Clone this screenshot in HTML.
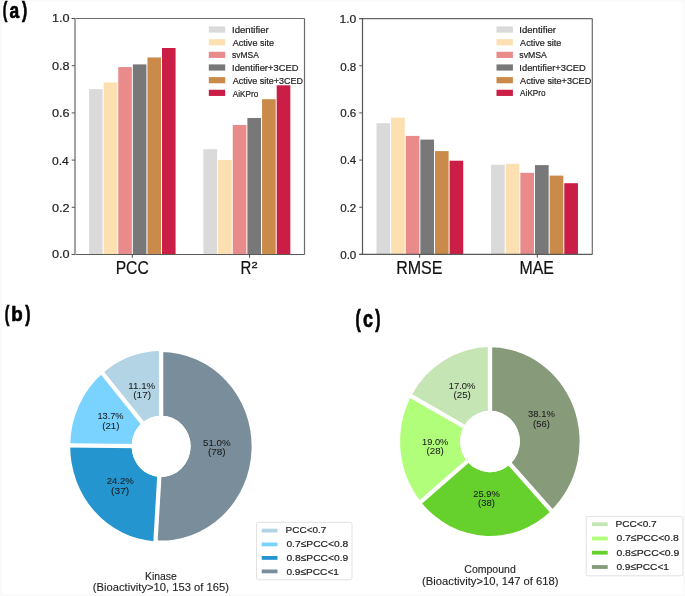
<!DOCTYPE html><html><head><meta charset="utf-8"><style>html,body{margin:0;padding:0;background:#fff;}svg{display:block;will-change:transform;}</style></head><body><svg width="685" height="596" viewBox="0 0 685 596" font-family="Liberation Sans, sans-serif">
<rect x="0.00" y="0.00" width="685.00" height="596.00" fill="#fff" />
<rect x="1" y="1" width="683" height="594" fill="none" stroke="#fafafa" stroke-width="2"/>
<rect x="89.10" y="89.15" width="13.58" height="165.35" fill="#dadada" />
<rect x="103.68" y="82.50" width="13.58" height="172.00" fill="#fde0b2" />
<rect x="118.26" y="67.05" width="13.58" height="187.45" fill="#e98a8b" />
<rect x="132.84" y="64.40" width="13.58" height="190.10" fill="#787878" />
<rect x="147.42" y="57.45" width="13.58" height="197.05" fill="#ca8b4a" />
<rect x="162.00" y="48.00" width="13.58" height="206.50" fill="#ca1e46" />
<rect x="203.45" y="149.20" width="13.65" height="105.30" fill="#dadada" />
<rect x="218.10" y="160.00" width="13.65" height="94.50" fill="#fde0b2" />
<rect x="232.75" y="125.00" width="13.65" height="129.50" fill="#e98a8b" />
<rect x="247.40" y="118.00" width="13.65" height="136.50" fill="#787878" />
<rect x="262.05" y="99.20" width="13.65" height="155.30" fill="#ca8b4a" />
<rect x="276.70" y="85.30" width="13.65" height="169.20" fill="#ca1e46" />
<line x1="71.70" y1="18.50" x2="304.50" y2="18.50" stroke="#6a6a6a" stroke-width="1.2"/>
<line x1="304.50" y1="18.50" x2="304.50" y2="254.50" stroke="#6a6a6a" stroke-width="1.2"/>
<line x1="71.70" y1="254.50" x2="304.50" y2="254.50" stroke="#5a5a5a" stroke-width="1.2"/>
<line x1="75.00" y1="17.90" x2="75.00" y2="255.10" stroke="#a3a3a3" stroke-width="2.1"/>
<line x1="71.70" y1="254.50" x2="75.00" y2="254.50" stroke="#555" stroke-width="1"/>
<text x="51.96" y="258.45" font-size="11" font-weight="400" fill="#222" textLength="17.63" lengthAdjust="spacingAndGlyphs" stroke="#222" stroke-width="0.2">0.0</text>
<line x1="71.70" y1="207.30" x2="75.00" y2="207.30" stroke="#555" stroke-width="1"/>
<text x="51.96" y="211.89" font-size="11" font-weight="400" fill="#222" textLength="17.63" lengthAdjust="spacingAndGlyphs" stroke="#222" stroke-width="0.2">0.2</text>
<line x1="71.70" y1="160.10" x2="75.00" y2="160.10" stroke="#555" stroke-width="1"/>
<text x="51.96" y="164.53" font-size="11" font-weight="400" fill="#222" textLength="16.83" lengthAdjust="spacingAndGlyphs" stroke="#222" stroke-width="0.2">0.4</text>
<line x1="71.70" y1="112.90" x2="75.00" y2="112.90" stroke="#555" stroke-width="1"/>
<text x="51.96" y="117.17" font-size="11" font-weight="400" fill="#222" textLength="17.63" lengthAdjust="spacingAndGlyphs" stroke="#222" stroke-width="0.2">0.6</text>
<line x1="71.70" y1="65.70" x2="75.00" y2="65.70" stroke="#555" stroke-width="1"/>
<text x="51.96" y="69.81" font-size="11" font-weight="400" fill="#222" textLength="17.63" lengthAdjust="spacingAndGlyphs" stroke="#222" stroke-width="0.2">0.8</text>
<line x1="71.70" y1="18.50" x2="75.00" y2="18.50" stroke="#555" stroke-width="1"/>
<text x="51.96" y="22.45" font-size="11" font-weight="400" fill="#222" textLength="17.63" lengthAdjust="spacingAndGlyphs" stroke="#222" stroke-width="0.2">1.0</text>
<line x1="132.30" y1="254.50" x2="132.30" y2="257.70" stroke="#444" stroke-width="1"/>
<line x1="249.60" y1="254.50" x2="249.60" y2="257.70" stroke="#444" stroke-width="1"/>
<rect x="208.80" y="26.40" width="16.40" height="6.20" fill="#dadada" />
<rect x="208.80" y="39.10" width="16.40" height="6.20" fill="#fde0b2" />
<rect x="208.80" y="51.75" width="16.40" height="6.20" fill="#e98a8b" />
<rect x="208.80" y="64.40" width="16.40" height="6.20" fill="#787878" />
<rect x="208.80" y="77.10" width="16.40" height="6.20" fill="#ca8b4a" />
<rect x="208.80" y="89.75" width="16.40" height="6.20" fill="#ca1e46" />
<rect x="376.50" y="123.20" width="13.62" height="131.20" fill="#dadada" />
<rect x="391.12" y="117.60" width="13.62" height="136.80" fill="#fde0b2" />
<rect x="405.74" y="135.90" width="13.62" height="118.50" fill="#e98a8b" />
<rect x="420.36" y="139.60" width="13.62" height="114.80" fill="#787878" />
<rect x="434.98" y="151.10" width="13.62" height="103.30" fill="#ca8b4a" />
<rect x="449.60" y="160.70" width="13.62" height="93.70" fill="#ca1e46" />
<rect x="491.05" y="164.70" width="13.65" height="89.70" fill="#dadada" />
<rect x="505.70" y="163.90" width="13.65" height="90.50" fill="#fde0b2" />
<rect x="520.35" y="172.80" width="13.65" height="81.60" fill="#e98a8b" />
<rect x="535.00" y="165.10" width="13.65" height="89.30" fill="#787878" />
<rect x="549.65" y="175.60" width="13.65" height="78.80" fill="#ca8b4a" />
<rect x="564.30" y="183.20" width="13.65" height="71.20" fill="#ca1e46" />
<line x1="359.20" y1="18.60" x2="592.30" y2="18.60" stroke="#6a6a6a" stroke-width="1.2"/>
<line x1="592.30" y1="18.60" x2="592.30" y2="254.40" stroke="#6a6a6a" stroke-width="1.2"/>
<line x1="359.20" y1="254.40" x2="592.30" y2="254.40" stroke="#5a5a5a" stroke-width="1.2"/>
<line x1="362.50" y1="18.00" x2="362.50" y2="255.00" stroke="#555" stroke-width="1.2"/>
<line x1="359.20" y1="254.40" x2="362.50" y2="254.40" stroke="#555" stroke-width="1"/>
<text x="340.22" y="258.54" font-size="11" font-weight="400" fill="#222" textLength="16.10" lengthAdjust="spacingAndGlyphs" stroke="#222" stroke-width="0.2">0.0</text>
<line x1="359.20" y1="207.24" x2="362.50" y2="207.24" stroke="#555" stroke-width="1"/>
<text x="340.22" y="211.73" font-size="11" font-weight="400" fill="#222" textLength="16.10" lengthAdjust="spacingAndGlyphs" stroke="#222" stroke-width="0.2">0.2</text>
<line x1="359.20" y1="160.08" x2="362.50" y2="160.08" stroke="#555" stroke-width="1"/>
<text x="340.22" y="164.12" font-size="11" font-weight="400" fill="#222" textLength="16.10" lengthAdjust="spacingAndGlyphs" stroke="#222" stroke-width="0.2">0.4</text>
<line x1="359.20" y1="112.92" x2="362.50" y2="112.92" stroke="#555" stroke-width="1"/>
<text x="340.22" y="117.32" font-size="11" font-weight="400" fill="#222" textLength="16.10" lengthAdjust="spacingAndGlyphs" stroke="#222" stroke-width="0.2">0.6</text>
<line x1="359.20" y1="65.76" x2="362.50" y2="65.76" stroke="#555" stroke-width="1"/>
<text x="340.22" y="70.51" font-size="11" font-weight="400" fill="#222" textLength="16.10" lengthAdjust="spacingAndGlyphs" stroke="#222" stroke-width="0.2">0.8</text>
<line x1="359.20" y1="18.60" x2="362.50" y2="18.60" stroke="#555" stroke-width="1"/>
<text x="339.42" y="22.90" font-size="11" font-weight="400" fill="#222" textLength="16.90" lengthAdjust="spacingAndGlyphs" stroke="#222" stroke-width="0.2">1.0</text>
<line x1="419.70" y1="254.40" x2="419.70" y2="257.60" stroke="#444" stroke-width="1"/>
<line x1="537.30" y1="254.40" x2="537.30" y2="257.60" stroke="#444" stroke-width="1"/>
<rect x="496.50" y="26.40" width="16.40" height="6.20" fill="#dadada" />
<rect x="496.50" y="39.10" width="16.40" height="6.20" fill="#fde0b2" />
<rect x="496.50" y="51.75" width="16.40" height="6.20" fill="#e98a8b" />
<rect x="496.50" y="64.40" width="16.40" height="6.20" fill="#787878" />
<rect x="496.50" y="77.10" width="16.40" height="6.20" fill="#ca8b4a" />
<rect x="496.50" y="89.75" width="16.40" height="6.20" fill="#ca1e46" />
<text x="232.04" y="32.65" font-size="9.2" font-weight="400" fill="#222" textLength="36.74" lengthAdjust="spacingAndGlyphs" stroke="#222" stroke-width="0.2">Identifier</text>
<text x="519.32" y="32.65" font-size="9.2" font-weight="400" fill="#222" textLength="36.74" lengthAdjust="spacingAndGlyphs" stroke="#222" stroke-width="0.2">Identifier</text>
<text x="232.84" y="45.51" font-size="9.2" font-weight="400" fill="#222" textLength="41.12" lengthAdjust="spacingAndGlyphs" stroke="#222" stroke-width="0.2">Active site</text>
<text x="520.12" y="45.51" font-size="9.2" font-weight="400" fill="#222" textLength="41.12" lengthAdjust="spacingAndGlyphs" stroke="#222" stroke-width="0.2">Active site</text>
<text x="232.04" y="57.88" font-size="9.2" font-weight="400" fill="#222" textLength="26.84" lengthAdjust="spacingAndGlyphs" stroke="#222" stroke-width="0.2">svMSA</text>
<text x="519.32" y="57.88" font-size="9.2" font-weight="400" fill="#222" textLength="27.64" lengthAdjust="spacingAndGlyphs" stroke="#222" stroke-width="0.2">svMSA</text>
<text x="232.04" y="70.65" font-size="9.2" font-weight="400" fill="#222" textLength="66.46" lengthAdjust="spacingAndGlyphs" stroke="#222" stroke-width="0.2">Identifier+3CED</text>
<text x="519.32" y="70.65" font-size="9.2" font-weight="400" fill="#222" textLength="66.46" lengthAdjust="spacingAndGlyphs" stroke="#222" stroke-width="0.2">Identifier+3CED</text>
<text x="232.84" y="83.51" font-size="9.2" font-weight="400" fill="#222" textLength="70.30" lengthAdjust="spacingAndGlyphs" stroke="#222" stroke-width="0.2">Active site+3CED</text>
<text x="520.12" y="83.51" font-size="9.2" font-weight="400" fill="#222" textLength="71.10" lengthAdjust="spacingAndGlyphs" stroke="#222" stroke-width="0.2">Active site+3CED</text>
<text x="232.84" y="96.68" font-size="9.2" font-weight="400" fill="#222" textLength="25.48" lengthAdjust="spacingAndGlyphs" stroke="#222" stroke-width="0.2">AiKPro</text>
<text x="520.12" y="96.28" font-size="9.2" font-weight="400" fill="#222" textLength="25.48" lengthAdjust="spacingAndGlyphs" stroke="#222" stroke-width="0.2">AiKPro</text>
<text x="115.70" y="273.68" font-size="18" font-weight="400" fill="#111" textLength="32.98" lengthAdjust="spacingAndGlyphs" stroke="#111" stroke-width="0.2">PCC</text>
<text x="240.52" y="273.70" font-size="18" font-weight="400" fill="#111" textLength="10.80" lengthAdjust="spacingAndGlyphs" stroke="#111" stroke-width="0.2">R</text>
<text x="251.50" y="267.74" font-size="9.8" font-weight="400" fill="#111" textLength="6.18" lengthAdjust="spacingAndGlyphs" stroke="#111" stroke-width="0.3">2</text>
<text x="396.16" y="273.76" font-size="18" font-weight="400" fill="#111" textLength="46.34" lengthAdjust="spacingAndGlyphs" stroke="#111" stroke-width="0.2">RMSE</text>
<text x="519.60" y="273.66" font-size="18" font-weight="400" fill="#111" textLength="34.36" lengthAdjust="spacingAndGlyphs" stroke="#111" stroke-width="0.2">MAE</text>
<text x="2.67" y="16.70" font-size="22" font-weight="700" fill="#000" textLength="4.61" lengthAdjust="spacingAndGlyphs" stroke="#000" stroke-width="0.7">(</text>
<text x="9.50" y="17.86" font-size="22" font-weight="700" fill="#000" textLength="9.66" lengthAdjust="spacingAndGlyphs" stroke="#000" stroke-width="0.7">a</text>
<text x="21.88" y="16.70" font-size="22" font-weight="700" fill="#000" textLength="5.20" lengthAdjust="spacingAndGlyphs" stroke="#000" stroke-width="0.7">)</text>
<text x="4.67" y="321.36" font-size="22" font-weight="700" fill="#000" textLength="4.61" lengthAdjust="spacingAndGlyphs" stroke="#000" stroke-width="0.7">(</text>
<text x="11.16" y="321.30" font-size="21" font-weight="700" fill="#000" textLength="11.46" lengthAdjust="spacingAndGlyphs" stroke="#000" stroke-width="0.7">b</text>
<text x="25.30" y="321.36" font-size="22" font-weight="700" fill="#000" textLength="5.20" lengthAdjust="spacingAndGlyphs" stroke="#000" stroke-width="0.7">)</text>
<text x="355.54" y="326.72" font-size="23" font-weight="700" fill="#000" textLength="5.24" lengthAdjust="spacingAndGlyphs" stroke="#000" stroke-width="0.7">(</text>
<text x="363.08" y="326.80" font-size="23" font-weight="700" fill="#000" textLength="10.00" lengthAdjust="spacingAndGlyphs" stroke="#000" stroke-width="0.7">c</text>
<text x="375.30" y="326.72" font-size="23" font-weight="700" fill="#000" textLength="5.20" lengthAdjust="spacingAndGlyphs" stroke="#000" stroke-width="0.7">)</text>
<path d="M161.10,351.00 A90.9,95.3 0 0 0 102.67,373.30 L142.14,422.82 A29.5,30.65 0 0 1 161.10,415.65 Z" fill="#b3d4e5"/>
<path d="M102.67,373.30 A90.9,95.3 0 0 0 70.20,445.32 L131.60,445.99 A29.5,30.65 0 0 1 142.14,422.82 Z" fill="#7ad2fe"/>
<path d="M70.20,445.32 A90.9,95.3 0 0 0 155.50,541.42 L159.28,476.89 A29.5,30.65 0 0 1 131.60,445.99 Z" fill="#2495cf"/>
<path d="M155.53,540.42 A90.5,94.3 0 1 0 161.10,352.00 L161.10,415.65 A29.5,30.65 0 1 1 159.28,476.89 Z" fill="#798d9a"/>
<line x1="161.10" y1="446.30" x2="161.10" y2="347.00" stroke="#fff" stroke-width="4.3"/>
<line x1="161.10" y1="446.30" x2="100.10" y2="370.23" stroke="#fff" stroke-width="4.3"/>
<line x1="161.10" y1="446.30" x2="66.21" y2="445.28" stroke="#fff" stroke-width="4.3"/>
<line x1="161.10" y1="446.30" x2="155.26" y2="545.41" stroke="#fff" stroke-width="4.3"/>
<ellipse cx="161.1" cy="446.3" rx="29.5" ry="30.65" fill="#fff"/>
<text x="128.33" y="388.56" font-size="9.1" font-weight="400" fill="#1a1a1a" textLength="26.90" lengthAdjust="spacingAndGlyphs" stroke="#1a1a1a" stroke-width="0.05">11.1%</text>
<text x="133.23" y="398.36" font-size="9.1" font-weight="400" fill="#1a1a1a" textLength="17.90" lengthAdjust="spacingAndGlyphs" stroke="#1a1a1a" stroke-width="0.05">(17)</text>
<text x="97.41" y="419.10" font-size="9.1" font-weight="400" fill="#1a1a1a" textLength="26.10" lengthAdjust="spacingAndGlyphs" stroke="#1a1a1a" stroke-width="0.05">13.7%</text>
<text x="102.31" y="428.54" font-size="9.1" font-weight="400" fill="#1a1a1a" textLength="17.10" lengthAdjust="spacingAndGlyphs" stroke="#1a1a1a" stroke-width="0.05">(21)</text>
<text x="106.68" y="483.82" font-size="9.1" font-weight="400" fill="#1a1a1a" textLength="27.00" lengthAdjust="spacingAndGlyphs" stroke="#1a1a1a" stroke-width="0.05">24.2%</text>
<text x="111.14" y="493.90" font-size="9.1" font-weight="400" fill="#1a1a1a" textLength="18.08" lengthAdjust="spacingAndGlyphs" stroke="#1a1a1a" stroke-width="0.05">(37)</text>
<text x="203.05" y="445.66" font-size="9.1" font-weight="400" fill="#1a1a1a" textLength="27.54" lengthAdjust="spacingAndGlyphs" stroke="#1a1a1a" stroke-width="0.05">51.0%</text>
<text x="207.96" y="455.18" font-size="9.1" font-weight="400" fill="#1a1a1a" textLength="17.72" lengthAdjust="spacingAndGlyphs" stroke="#1a1a1a" stroke-width="0.05">(78)</text>
<path d="M490.00,347.10 A89.9,94.4 0 0 0 411.20,396.06 L463.84,426.72 A29.85,30.7 0 0 1 490.00,410.80 Z" fill="#c5e5b4"/>
<path d="M411.20,396.06 A89.9,94.4 0 0 0 420.93,501.92 L467.07,461.15 A29.85,30.7 0 0 1 463.84,426.72 Z" fill="#b1fe7b"/>
<path d="M420.93,501.92 A89.9,94.4 0 0 0 551.15,510.70 L510.30,464.00 A29.85,30.7 0 0 1 467.07,461.15 Z" fill="#66d12c"/>
<path d="M550.94,510.55 A89.6,94.2 0 0 0 490.00,347.30 L490.00,410.80 A29.85,30.7 0 0 1 510.30,464.00 Z" fill="#879b7a"/>
<line x1="490.00" y1="441.50" x2="490.00" y2="343.10" stroke="#fff" stroke-width="4.3"/>
<line x1="490.00" y1="441.50" x2="407.70" y2="394.13" stroke="#fff" stroke-width="4.3"/>
<line x1="490.00" y1="441.50" x2="417.85" y2="504.48" stroke="#fff" stroke-width="4.3"/>
<line x1="490.00" y1="441.50" x2="553.87" y2="513.63" stroke="#fff" stroke-width="4.3"/>
<ellipse cx="490.0" cy="441.5" rx="29.85" ry="30.7" fill="#fff"/>
<text x="448.78" y="388.72" font-size="9.1" font-weight="400" fill="#1a1a1a" textLength="26.72" lengthAdjust="spacingAndGlyphs" stroke="#1a1a1a" stroke-width="0.05">17.0%</text>
<text x="453.50" y="398.36" font-size="9.1" font-weight="400" fill="#1a1a1a" textLength="17.28" lengthAdjust="spacingAndGlyphs" stroke="#1a1a1a" stroke-width="0.05">(25)</text>
<text x="422.05" y="444.50" font-size="9.1" font-weight="400" fill="#1a1a1a" textLength="26.18" lengthAdjust="spacingAndGlyphs" stroke="#1a1a1a" stroke-width="0.05">19.0%</text>
<text x="426.50" y="454.18" font-size="9.1" font-weight="400" fill="#1a1a1a" textLength="17.28" lengthAdjust="spacingAndGlyphs" stroke="#1a1a1a" stroke-width="0.05">(28)</text>
<text x="473.23" y="496.68" font-size="9.1" font-weight="400" fill="#1a1a1a" textLength="26.54" lengthAdjust="spacingAndGlyphs" stroke="#1a1a1a" stroke-width="0.05">25.9%</text>
<text x="478.04" y="506.32" font-size="9.1" font-weight="400" fill="#1a1a1a" textLength="16.92" lengthAdjust="spacingAndGlyphs" stroke="#1a1a1a" stroke-width="0.05">(38)</text>
<text x="528.14" y="417.48" font-size="9.1" font-weight="400" fill="#1a1a1a" textLength="26.72" lengthAdjust="spacingAndGlyphs" stroke="#1a1a1a" stroke-width="0.05">38.1%</text>
<text x="533.04" y="427.00" font-size="9.1" font-weight="400" fill="#1a1a1a" textLength="16.92" lengthAdjust="spacingAndGlyphs" stroke="#1a1a1a" stroke-width="0.05">(56)</text>
<rect x="256.5" y="522.3" width="95.5" height="57.5" rx="2" ry="2" fill="#fff" stroke="#e2e2e2" stroke-width="1"/>
<rect x="261.70" y="528.70" width="15.80" height="3.80" fill="#b3d4e5" />
<text x="285.60" y="533.02" font-size="9.5" font-weight="400" fill="#222" textLength="40.72" lengthAdjust="spacingAndGlyphs" stroke="#222" stroke-width="0.2">PCC&lt;0.7</text>
<rect x="261.70" y="542.50" width="15.80" height="3.80" fill="#7ad2fe" />
<text x="286.40" y="547.20" font-size="9.5" font-weight="400" fill="#222" textLength="61.92" lengthAdjust="spacingAndGlyphs" stroke="#222" stroke-width="0.2">0.7≤PCC&lt;0.8</text>
<rect x="261.70" y="556.00" width="15.80" height="3.80" fill="#2495cf" />
<text x="286.40" y="560.56" font-size="9.5" font-weight="400" fill="#222" textLength="61.92" lengthAdjust="spacingAndGlyphs" stroke="#222" stroke-width="0.2">0.8≤PCC&lt;0.9</text>
<rect x="261.70" y="569.50" width="15.80" height="3.80" fill="#798d9a" />
<text x="286.40" y="574.64" font-size="9.5" font-weight="400" fill="#222" textLength="52.56" lengthAdjust="spacingAndGlyphs" stroke="#222" stroke-width="0.2">0.9≤PCC&lt;1</text>
<rect x="586.2" y="516.4" width="96.69999999999993" height="59.39999999999998" rx="2" ry="2" fill="#fff" stroke="#e2e2e2" stroke-width="1"/>
<rect x="591.90" y="522.30" width="15.80" height="3.80" fill="#c5e5b4" />
<text x="615.60" y="527.14" font-size="9.9" font-weight="400" fill="#222" textLength="41.08" lengthAdjust="spacingAndGlyphs" stroke="#222" stroke-width="0.2">PCC&lt;0.7</text>
<rect x="591.90" y="536.60" width="15.80" height="3.80" fill="#b1fe7b" />
<text x="616.40" y="541.14" font-size="9.9" font-weight="400" fill="#222" textLength="62.38" lengthAdjust="spacingAndGlyphs" stroke="#222" stroke-width="0.2">0.7≤PCC&lt;0.8</text>
<rect x="591.90" y="550.80" width="15.80" height="3.80" fill="#66d12c" />
<text x="616.40" y="556.40" font-size="9.9" font-weight="400" fill="#222" textLength="62.92" lengthAdjust="spacingAndGlyphs" stroke="#222" stroke-width="0.2">0.8≤PCC&lt;0.9</text>
<rect x="591.90" y="565.10" width="15.80" height="3.80" fill="#879b7a" />
<text x="616.40" y="570.04" font-size="9.9" font-weight="400" fill="#222" textLength="52.56" lengthAdjust="spacingAndGlyphs" stroke="#222" stroke-width="0.2">0.9≤PCC&lt;1</text>
<text x="144.96" y="579.50" font-size="10" font-weight="400" fill="#222" textLength="31.82" lengthAdjust="spacingAndGlyphs" stroke="#222" stroke-width="0.1">Kinase</text>
<text x="92.86" y="591.30" font-size="10.6" font-weight="400" fill="#222" textLength="136.10" lengthAdjust="spacingAndGlyphs" stroke="#222" stroke-width="0.1">(Bioactivity&gt;10, 153 of 165)</text>
<text x="464.32" y="573.40" font-size="10" font-weight="400" fill="#222" textLength="51.46" lengthAdjust="spacingAndGlyphs" stroke="#222" stroke-width="0.1">Compound</text>
<text x="422.14" y="584.90" font-size="10.6" font-weight="400" fill="#222" textLength="136.44" lengthAdjust="spacingAndGlyphs" stroke="#222" stroke-width="0.1">(Bioactivity&gt;10, 147 of 618)</text>
</svg></body></html>
